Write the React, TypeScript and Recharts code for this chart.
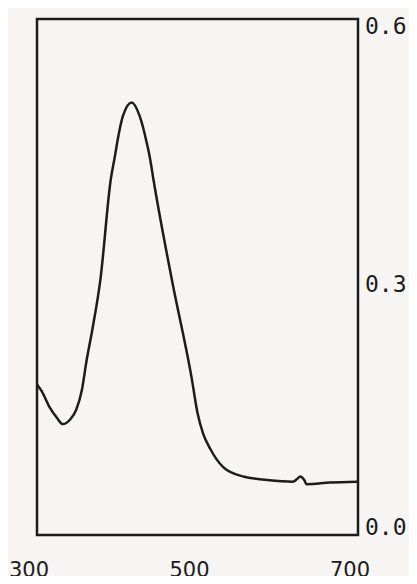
import { LineChart, Line, XAxis, YAxis, ReferenceArea } from "recharts"

// wavelength (nm) and absorbance
const wavelength = [300, 306, 316, 325, 332, 341, 349, 356, 362, 369, 379, 392, 397, 401, 407, 418, 428, 437, 441, 445, 468, 493, 500, 507, 516, 532, 557, 587, 619, 624, 628, 633, 636, 665, 699]
const absorbance = [0.175, 0.167, 0.148, 0.136, 0.129, 0.134, 0.146, 0.169, 0.204, 0.239, 0.297, 0.414, 0.44, 0.462, 0.487, 0.503, 0.487, 0.455, 0.437, 0.414, 0.297, 0.181, 0.142, 0.118, 0.1, 0.079, 0.068, 0.064, 0.062, 0.065, 0.068, 0.064, 0.059, 0.061, 0.062]

const xTicks = [300, 500, 700]
const yTicks = [0, 0.3, 0.6]

const data = wavelength.map((w, i) => ({ w, a: absorbance[i] }))

const ink = "#1c1c1c"

function XTick({ x, y, payload }: any) {
  return (
    <text x={x - 8} y={y + 27} textAnchor="middle" dominantBaseline="central"
      fontFamily="DejaVu Sans" fontSize={21} fill={ink}>
      {payload.value}
    </text>
  )
}

function YTick({ x, y, payload }: any) {
  const dy = payload.value === 0 ? -8 : 7
  return (
    <text x={x - 1} y={y + dy} textAnchor="start" dominantBaseline="central"
      fontFamily="DejaVu Sans Mono" fontSize={23} fill={ink}>
      {payload.value.toFixed(1)}
    </text>
  )
}

export default function App() {
  return (
    <div style={{ margin: -8, width: 417, height: 584, background: "#f7f5f3" }}>
      <LineChart width={417} height={584} data={data}
        margin={{ top: 19, left: 37, right: 0, bottom: 0 }}>
        <XAxis dataKey="w" type="number" domain={[300, 700]} ticks={xTicks}
          axisLine={false} tickLine={false} height={49} tick={<XTick />} interval={0} />
        <YAxis orientation="right" type="number" domain={[0, 0.6]} ticks={yTicks}
          axisLine={false} tickLine={false} width={59} tick={<YTick />} interval={0} />
        <ReferenceArea x1={300} x2={700} y1={0} y2={0.6} fill="none"
          stroke={ink} strokeWidth={2.5} ifOverflow="visible" />
        <Line type="monotone" dataKey="a" stroke={ink} strokeWidth={2.5}
          dot={false} isAnimationActive={false} />
      </LineChart>
    </div>
  )
}
